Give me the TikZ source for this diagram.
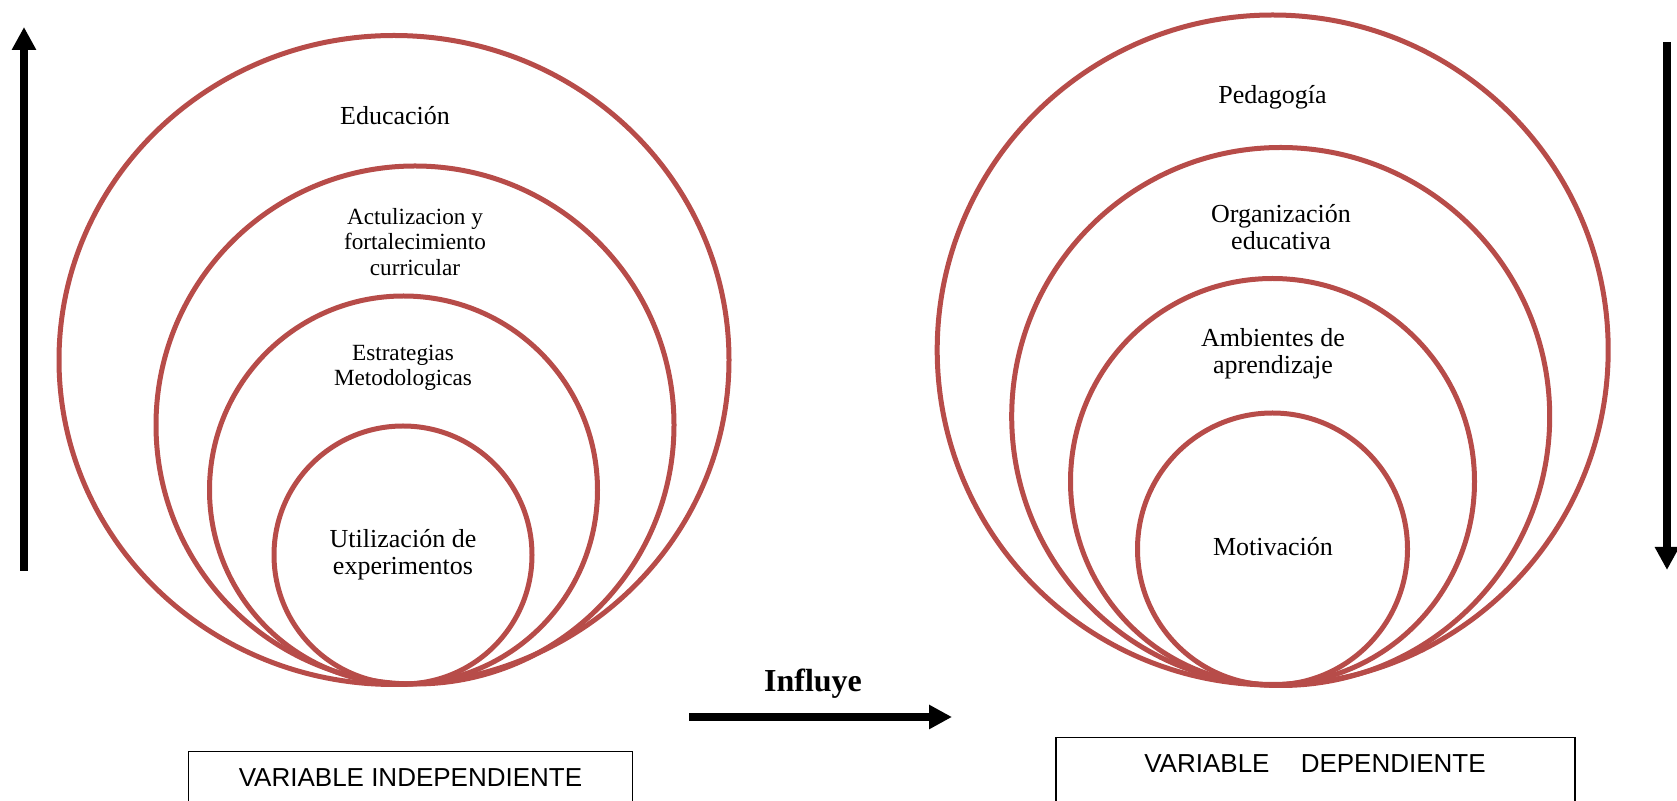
\documentclass[tikz,border=0pt]{standalone}
\usepackage{fontspec}
\setmainfont{Liberation Serif}
\setsansfont{Liberation Sans}
\usetikzlibrary{arrows.meta,shapes.geometric}
\definecolor{ringred}{HTML}{B74C49}
\tikzset{
  ring/.style={ellipse,draw=ringred,line width=2.5pt,inner sep=0pt},
  ringtext/.style={align=center,font=\fontsize{13}{13.5}\selectfont},
  smalltext/.style={align=center,font=\fontsize{11.6}{12.6}\selectfont},
  varbox/.style={rectangle,draw,line width=0.7pt,inner sep=0pt,anchor=north},
  vartext/.style={font=\sffamily\fontsize{13}{15}\selectfont},
  flow/.style={-{Triangle[length=11.5pt,width=11.5pt]},line width=4pt}}
\begin{document}
\begin{tikzpicture}[x=0.5pt,y=-0.5pt]
  \clip (0,0) rectangle (1677,801);
  \node[ring,minimum width=335pt,minimum height=324.5pt] (edu) at (394,360) {};
  \node[ring,minimum width=259pt,minimum height=259pt] (act) at (415,425) {};
  \node[ring,minimum width=194pt,minimum height=194pt] (est) at (403.5,490) {};
  \node[ring,minimum width=129pt,minimum height=129pt] (uti) at (403,555) {};
  \node[ringtext] (edutxt) at (395,116) {Educación};
  \node[smalltext] (acttxt) at (415,242) {Actulizacion y\\fortalecimiento\\curricular};
  \node[smalltext] (esttxt) at (403,368) {Estrategias\\Metodologicas};
  \node[ringtext] (utitxt) at (403,555) {Utilización de\\experimentos};
  \node[ring,minimum width=335.5pt,minimum height=335pt] (ped) at (1272.7,350) {};
  \node[ring,minimum width=269pt,minimum height=269pt] (org) at (1280.7,416.5) {};
  \node[ring,minimum width=202pt,minimum height=203pt] (amb) at (1272.5,481.5) {};
  \node[ring,minimum width=135pt,minimum height=136pt] (mot) at (1272.5,549) {};
  \node[ringtext] (pedtxt) at (1272.5,97) {Pedagogía};
  \node[ringtext] (orgtxt) at (1281,227) {Organización\\educativa};
  \node[ringtext] (ambtxt) at (1273,353.5) {Ambientes de\\aprendizaje};
  \node[ringtext] (mottxt) at (1273,547) {Motivación};
  \node[varbox,minimum width=222pt,minimum height=40pt] (indep) at (410.5,751) {};
  \node[vartext] (indeptxt) at (410.5,778) {VARIABLE INDEPENDIENTE};
  \node[varbox,minimum width=259.5pt,minimum height=45pt] (dep) at (1315.5,737) {};
  \node[vartext] (deptxt) at (1315,764) {VARIABLE\hspace{12pt} DEPENDIENTE};
  \node[font=\bfseries\fontsize{16}{18}\selectfont] (influye) at (813,684) {Influye};
  \coordinate (upS) at (24,571);
  \coordinate (upT) at (24,27);
  \coordinate (downS) at (1667,42);
  \coordinate (downT) at (1667,570);
  \coordinate (infS) at (689,717);
  \coordinate (infT) at (952,717);
  \draw[flow] (upS) -- (upT);
  \draw[flow] (downS) -- (downT);
  \draw[flow] (infS) -- (infT);
\end{tikzpicture}
\end{document}
